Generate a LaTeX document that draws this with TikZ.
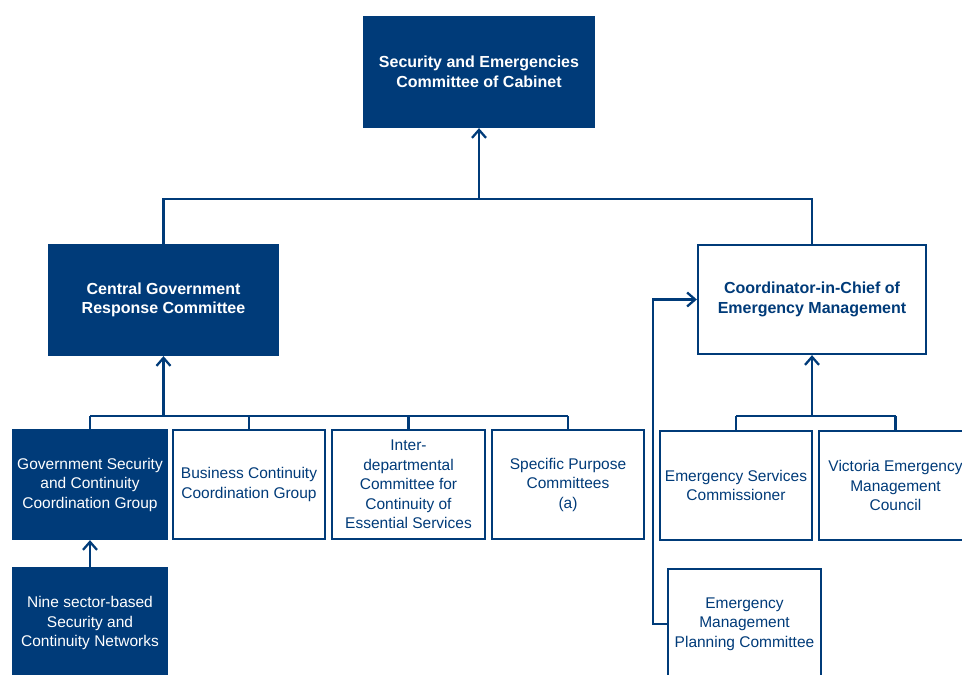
\documentclass[tikz,border=0pt]{standalone}
\usepackage{fontspec}
\setmainfont{Liberation Sans}
\usetikzlibrary{arrows.meta}
\definecolor{navy}{RGB}{0,59,121}

\begin{document}
\begin{tikzpicture}[x=1pt,y=1pt,
  box/.style={draw=navy,line width=2.3pt,align=center,inner sep=2pt,
    font=\fontsize{15.5}{19.5}\selectfont},
  dark/.style={box,fill=navy,text=white},
  pale/.style={box,fill=white,text=navy},
  head/.style={font=\fontsize{16}{19.5}\selectfont\bfseries},
  link/.style={draw=navy,line width=2.3pt},
  arr/.style={link,-{Straight Barb[length=8pt,width=14pt]}}]
\clip (0,0) rectangle (962,675);
% top level
\node[dark,head,minimum width=230,minimum height=110] (sec) at (479,603)
  {Security and Emergencies\\Committee of Cabinet};
\node[dark,head,minimum width=229,minimum height=110] (cgrc) at (163.5,375)
  {Central Government\\Response Committee};
\node[pale,head,minimum width=228,minimum height=109] (coord) at (812,375.5)
  {Coordinator-in-Chief of\\Emergency Management};
% groups under the response committee
\node[dark,minimum width=154,minimum height=109] (gsccg) at (90,190.5)
  {Government Security\\and Continuity\\Coordination Group};
\node[pale,minimum width=152,minimum height=109] (bccg) at (249,190.5)
  {Business Continuity\\Coordination Group};
\node[pale,minimum width=153,minimum height=109] (idc) at (408.5,190.5)
  {Inter-\\departmental\\Committee for\\Continuity of\\Essential Services};
\node[pale,minimum width=152,minimum height=109] (spc) at (568,190.5)
  {Specific Purpose\\Committees\\(a)};
\node[dark,minimum width=154,minimum height=110] (nine) at (90,52)
  {Nine sector-based\\Security and\\Continuity Networks};
% under the coordinator
\node[pale,minimum width=152,minimum height=109] (esc) at (736,189.5)
  {Emergency Services\\Commissioner};
\node[pale,minimum width=153,minimum height=109] (vemc) at (895.5,189.5)
  {Victoria Emergency\\Management\\Council};
\node[pale,minimum width=153,minimum height=110] (empc) at (744.5,51)
  {Emergency\\Management\\Planning Committee};

\coordinate (jtop) at (479,476);
\coordinate (jcg) at (163.5,259);
\coordinate (jco) at (812,259);

\draw[link] (cgrc.north) |- (jtop) -| (coord.north);
\draw[arr] (jtop) -- (sec.south);

\draw[arr] (jcg) -- (cgrc.south);
\draw[link] (gsccg.north |- jcg) -- (spc.north |- jcg);
\foreach \n in {gsccg,bccg,idc,spc}
  \draw[link] (\n.north) -- (\n.north |- jcg);
\draw[arr] (nine.north) -- (gsccg.south);

\draw[arr] (jco) -- (coord.south);
\draw[link] (esc.north |- jco) -- (vemc.north |- jco);
\foreach \n in {esc,vemc}
  \draw[link] (\n.north) -- (\n.north |- jco);
\draw[arr] (empc.west) -- ++(-14,0) |- (coord.west);
\end{tikzpicture}
\end{document}
